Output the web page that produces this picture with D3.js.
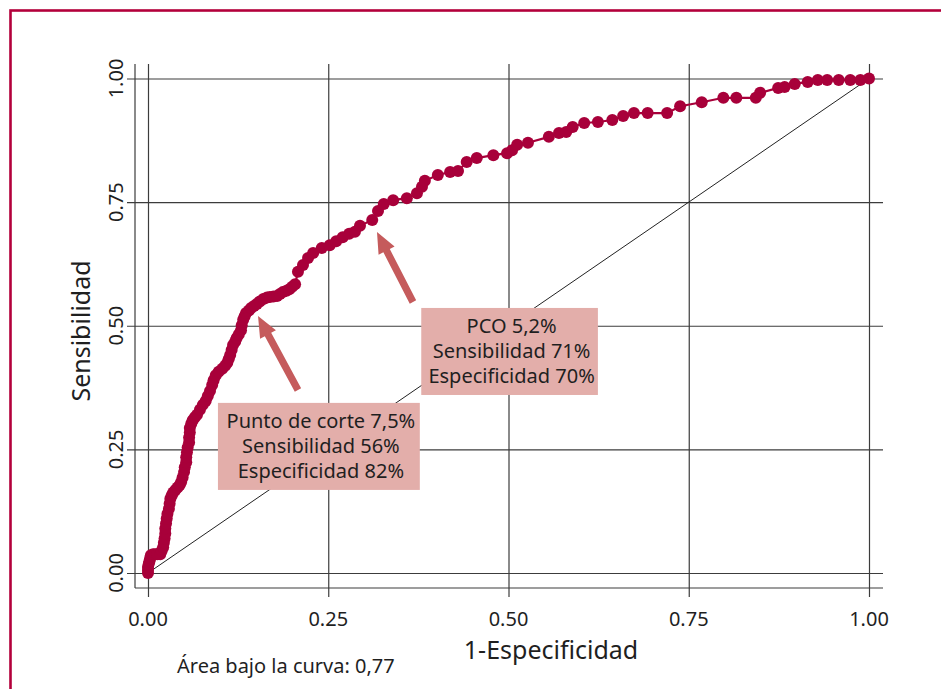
<!DOCTYPE html>
<html>
<head>
<meta charset="utf-8">
<script src="https://cdn.jsdelivr.net/npm/d3@7"></script>
<style>
  html, body { margin: 0; padding: 0; background: #fff; }
  svg { display: block; font-family: "Noto Sans", "Open Sans", sans-serif; }
</style>
</head>
<body>
<svg id="chart" width="941" height="689"></svg>
<script>
// ROC curve points (1-Especificidad, Sensibilidad)
const fpr = [0, 0, 0, 0.001, 0.002, 0.003, 0.004, 0.007, 0.010, 0.013, 0.017, 0.019, 0.021, 0.022, 0.023,
  0.024, 0.024, 0.025, 0.026, 0.027, 0.029, 0.030, 0.031, 0.033, 0.035, 0.038, 0.041, 0.044, 0.046, 0.048,
  0.050, 0.051, 0.053, 0.053, 0.054, 0.055, 0.057, 0.057, 0.058, 0.058, 0.060, 0.062, 0.065, 0.068, 0.072,
  0.076, 0.080, 0.083, 0.086, 0.089, 0.091, 0.094, 0.098, 0.103, 0.107, 0.110, 0.112, 0.114, 0.116, 0.118,
  0.121, 0.123, 0.126, 0.129, 0.130, 0.132, 0.134, 0.136, 0.140, 0.143, 0.147, 0.151, 0.155, 0.160, 0.165,
  0.169, 0.174, 0.179, 0.183, 0.187, 0.192, 0.196, 0.200, 0.204,
  0.208, 0.215, 0.222, 0.229, 0.241, 0.252, 0.261, 0.270, 0.279, 0.287, 0.294, 0.311, 0.319, 0.327, 0.340,
  0.359, 0.373, 0.380, 0.384, 0.402, 0.419, 0.430, 0.442, 0.456, 0.479, 0.498, 0.505, 0.512, 0.527, 0.556,
  0.570, 0.580, 0.589, 0.605, 0.624, 0.644, 0.659, 0.674, 0.693, 0.720, 0.738, 0.768, 0.798, 0.816, 0.843,
  0.849, 0.874, 0.883, 0.897, 0.915, 0.929, 0.942, 0.958, 0.974, 0.988, 1];
const tpr = [0, 0.006, 0.012, 0.018, 0.024, 0.030, 0.036, 0.038, 0.038, 0.038, 0.038, 0.045, 0.052, 0.061, 0.070,
  0.080, 0.090, 0.100, 0.110, 0.120, 0.130, 0.140, 0.150, 0.157, 0.163, 0.168, 0.173, 0.178, 0.184, 0.193,
  0.204, 0.214, 0.224, 0.234, 0.244, 0.254, 0.264, 0.274, 0.284, 0.293, 0.302, 0.309, 0.315, 0.320, 0.330,
  0.340, 0.348, 0.358, 0.368, 0.380, 0.390, 0.400, 0.407, 0.413, 0.419, 0.425, 0.433, 0.441, 0.451, 0.461,
  0.468, 0.475, 0.483, 0.491, 0.501, 0.512, 0.519, 0.526, 0.531, 0.536, 0.540, 0.544, 0.549, 0.554, 0.557,
  0.558, 0.559, 0.560, 0.564, 0.568, 0.571, 0.574, 0.579, 0.584,
  0.609, 0.623, 0.637, 0.647, 0.657, 0.663, 0.671, 0.679, 0.686, 0.690, 0.702, 0.714, 0.732, 0.746, 0.754,
  0.758, 0.768, 0.781, 0.793, 0.805, 0.811, 0.813, 0.831, 0.839, 0.845, 0.849, 0.855, 0.866, 0.870, 0.882,
  0.890, 0.892, 0.902, 0.910, 0.912, 0.916, 0.924, 0.930, 0.930, 0.930, 0.944, 0.952, 0.961, 0.961, 0.961,
  0.971, 0.981, 0.983, 0.989, 0.993, 0.997, 0.997, 0.997, 0.997, 0.997, 1];

const xTicks = [0, 0.25, 0.5, 0.75, 1];
const yTicks = [0, 0.25, 0.5, 0.75, 1];
const xTickLabels = ["0.00", "0.25", "0.50", "0.75", "1.00"];
const yTickLabels = ["0.00", "0.25", "0.50", "0.75", "1.00"];
const xTitle = "1-Especificidad";
const yTitle = "Sensibilidad";
const aucText = "Área bajo la curva: 0,77";

// Annotations (box corners and arrows in data units)
const annLines = [
  ["Punto de corte 7,5%", "Sensibilidad 56%", "Especificidad 82%"],
  ["PCO 5,2%", "Sensibilidad 71%", "Especificidad 70%"]
];
const annBoxLeft = [0.097, 0.379];
const annBoxRight = [0.377, 0.624];
const annBoxTop = [0.344, 0.536];
const annBoxBottom = [0.168, 0.360];
const arrowTip = [[0.1526, 0.5197], [0.3176, 0.6896]];
const arrowTail = [[0.208, 0.370], [0.3675, 0.548]];

const svg = d3.select("#chart");
const RED = "#a8003a";
const GRID = "#3c3c3c";
const TEXT = "#1f1f1f";

// Outer frame (left and top borders visible)
svg.append("rect").attr("x", 10.5).attr("y", 10.5).attr("width", 1200).attr("height", 1200)
  .attr("fill", "none").attr("stroke", "#b3003b").attr("stroke-width", 2.6);

const x = d3.scaleLinear().domain([0, 1]).range([148, 869]);
const y = d3.scaleLinear().domain([0, 1]).range([573, 78.5]);

const plotL = 135, plotR = 883, plotT = 64, plotB = 588;

// Horizontal gridlines + ticks (outward to 127)
const yAxis = d3.axisLeft(y).tickValues(yTicks).tickSizeInner(-(plotR - 127)).tickSizeOuter(0).tickFormat("");
const gy = svg.append("g").attr("transform", `translate(127,0)`).call(yAxis);
gy.select(".domain").remove();
gy.selectAll(".tick line").attr("stroke", GRID).attr("stroke-width", 1.2);

// Vertical gridlines + ticks (down to 597)
const xAxis = d3.axisBottom(x).tickValues(xTicks).tickSizeInner(-(597 - plotT)).tickSizeOuter(0).tickFormat("");
const gx = svg.append("g").attr("transform", `translate(0,597)`).call(xAxis);
gx.select(".domain").remove();
gx.selectAll(".tick line").attr("stroke", GRID).attr("stroke-width", 1.2);

// Axis lines
svg.append("line").attr("x1", plotL).attr("x2", plotL).attr("y1", plotT).attr("y2", plotB)
  .attr("stroke", GRID).attr("stroke-width", 1.2);
svg.append("line").attr("x1", plotL).attr("x2", plotR).attr("y1", plotB).attr("y2", plotB)
  .attr("stroke", GRID).attr("stroke-width", 1.2);

// Tick labels
svg.append("g").selectAll("text").data(xTicks).join("text")
  .attr("x", d => x(d)).attr("y", 626).attr("text-anchor", "middle")
  .attr("font-size", 20).attr("fill", TEXT).text((d, i) => xTickLabels[i]);
svg.append("g").selectAll("text").data(yTicks).join("text")
  .attr("transform", d => `translate(123,${y(d)}) rotate(-90)`).attr("text-anchor", "middle")
  .attr("font-size", 20).attr("fill", TEXT).text((d, i) => yTickLabels[i]);

// Axis titles
svg.append("text").attr("x", 551).attr("y", 659).attr("text-anchor", "middle")
  .attr("font-size", 25).attr("fill", TEXT).text(xTitle);
svg.append("text").attr("transform", `translate(90,331) rotate(-90)`).attr("text-anchor", "middle")
  .attr("font-size", 25).attr("fill", TEXT).text(yTitle);
svg.append("text").attr("x", 177).attr("y", 673).attr("text-anchor", "start")
  .attr("font-size", 20).attr("fill", TEXT).text(aucText);

// Reference diagonal
svg.append("line").attr("x1", x(0)).attr("y1", y(0)).attr("x2", x(1)).attr("y2", y(1))
  .attr("stroke", "#222").attr("stroke-width", 1);

// ROC curve
const pts = fpr.map((f, i) => [f, tpr[i]]);
svg.append("path").datum(pts)
  .attr("d", d3.line().x(d => x(d[0])).y(d => y(d[1])))
  .attr("fill", "none").attr("stroke", RED).attr("stroke-width", 2.2);
svg.append("g").selectAll("circle").data(pts).join("circle")
  .attr("cx", d => x(d[0])).attr("cy", d => y(d[1])).attr("r", 6).attr("fill", RED);

// Annotation boxes
annLines.forEach((lines, i) => {
  const x0 = x(annBoxLeft[i]), x1 = x(annBoxRight[i]);
  const y0 = y(annBoxTop[i]), y1 = y(annBoxBottom[i]);
  svg.append("rect").attr("x", x0).attr("y", y0).attr("width", x1 - x0).attr("height", y1 - y0)
    .attr("fill", "#e3aeaa");
  lines.forEach((t, j) => {
    svg.append("text").attr("x", (x0 + x1) / 2 + 2).attr("y", y0 + 25 + j * 25)
      .attr("text-anchor", "middle").attr("font-size", 20).attr("fill", TEXT).text(t);
  });
});

// Arrows
arrowTip.forEach((tip, i) => {
  const tx = x(tip[0]), ty = y(tip[1]);
  const sx = x(arrowTail[i][0]), sy = y(arrowTail[i][1]);
  const dx = tx - sx, dy = ty - sy, len = Math.hypot(dx, dy);
  const ux = dx / len, uy = dy / len, px = -uy, py = ux;
  const headLen = 21, headW = 9, shaftW = 3.6;
  const bx = tx - ux * headLen, by = ty - uy * headLen;
  const poly = [
    [sx + px * shaftW, sy + py * shaftW],
    [bx + px * shaftW, by + py * shaftW],
    [bx + px * headW, by + py * headW],
    [tx, ty],
    [bx - px * headW, by - py * headW],
    [bx - px * shaftW, by - py * shaftW],
    [sx - px * shaftW, sy - py * shaftW]
  ];
  svg.append("polygon").attr("points", poly.map(p => p.join(",")).join(" "))
    .attr("fill", "#c55b5c");
});
</script>
</body>
</html>
